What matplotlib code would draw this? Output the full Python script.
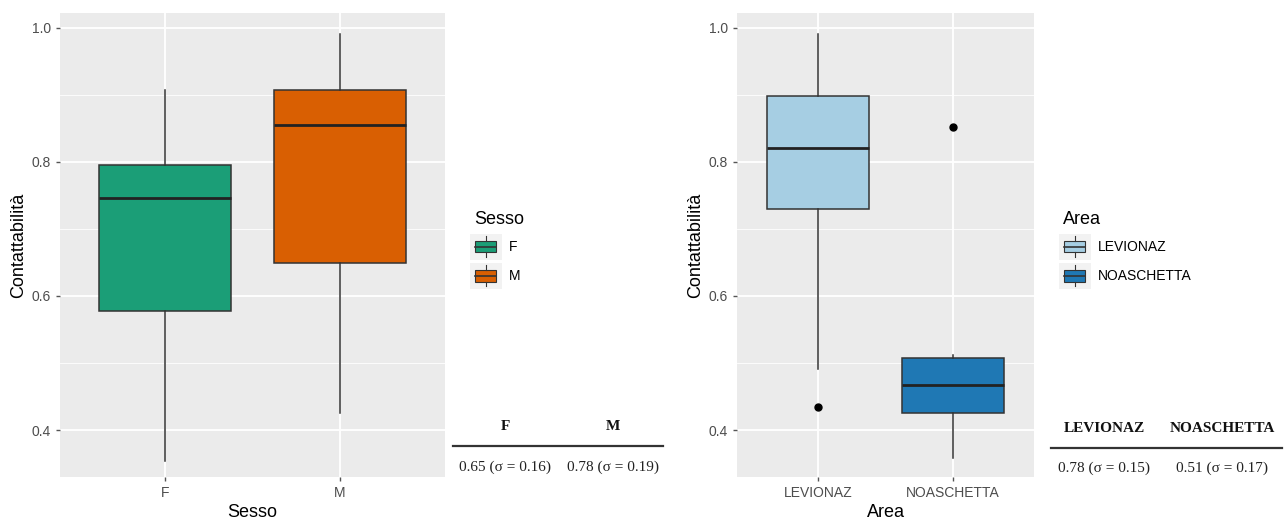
import matplotlib
matplotlib.use("Agg")
import matplotlib.pyplot as plt
from matplotlib.patches import Patch, Rectangle
from matplotlib.lines import Line2D
from matplotlib.legend_handler import HandlerBase
from matplotlib.ticker import MultipleLocator

plt.rcParams['font.family'] = ['Liberation Sans', 'DejaVu Sans']

# Boxplot statistics
sesso = ["F", "M"]
sesso_colors = ["#1B9E77", "#D95F02"]
sesso_whislo = [0.354, 0.425]
sesso_q1 = [0.578, 0.649]
sesso_med = [0.746, 0.855]
sesso_q3 = [0.796, 0.907]
sesso_whishi = [0.907, 0.991]
sesso_fliers = [[], []]
sesso_table = ["0.65 (σ = 0.16)", "0.78 (σ = 0.19)"]

area = ["LEVIONAZ", "NOASCHETTA"]
area_colors = ["#A6CEE3", "#1F78B4"]
area_whislo = [0.491, 0.359]
area_q1 = [0.729, 0.425]
area_med = [0.820, 0.467]
area_q3 = [0.898, 0.507]
area_whishi = [0.991, 0.512]
area_fliers = [[0.434], [0.852]]
area_table = ["0.78 (σ = 0.15)", "0.51 (σ = 0.17)"]

EDGE = "#333333"


class BoxKeyHandler(HandlerBase):
    def create_artists(self, legend, orig_handle, xdescent, ydescent,
                       width, height, fontsize, trans):
        bg = Rectangle((-xdescent - 3, -ydescent - 4), width + 6, height + 8,
                       facecolor="#F2F2F2", edgecolor="none", transform=trans)
        box = Rectangle((-xdescent + 1, -ydescent + height * 0.12), width - 2, height * 0.76,
                        facecolor=orig_handle.get_facecolor(), edgecolor=EDGE,
                        lw=0.8, transform=trans)
        cx = -xdescent + width / 2
        med = Line2D([-xdescent + 1, -xdescent + width - 1],
                     [-ydescent + height / 2] * 2, color=EDGE, lw=1.2, transform=trans)
        wt = Line2D([cx, cx], [-ydescent + height * 0.88, -ydescent + height + 2],
                    color=EDGE, lw=0.8, transform=trans)
        wb = Line2D([cx, cx], [-ydescent - 2, -ydescent + height * 0.12],
                    color=EDGE, lw=0.8, transform=trans)
        return [bg, box, med, wt, wb]


def draw_panel(ax, cats, colors, whislo, q1, med, q3, whishi, fliers, xlabel):
    stats = []
    for i in range(len(cats)):
        stats.append(dict(label=cats[i], whislo=whislo[i], q1=q1[i], med=med[i],
                          q3=q3[i], whishi=whishi[i], fliers=fliers[i]))
    pos = list(range(1, len(cats) + 1))
    bp = ax.bxp(stats, positions=pos, widths=0.75, patch_artist=True,
                showcaps=False, showfliers=True,
                boxprops=dict(edgecolor=EDGE, linewidth=1.1),
                medianprops=dict(color="#222222", linewidth=2.0),
                whiskerprops=dict(color=EDGE, linewidth=1.1),
                flierprops=dict(marker="o", markerfacecolor="black",
                                markeredgecolor="black", markersize=5))
    for patch, c in zip(bp["boxes"], colors):
        patch.set_facecolor(c)
    ax.set_facecolor("#EBEBEB")
    ax.set_xlim(0.4, len(cats) + 0.6)
    ax.set_ylim(0.33, 1.022)
    ax.yaxis.set_major_locator(MultipleLocator(0.2))
    ax.yaxis.set_minor_locator(MultipleLocator(0.1))
    ax.set_yticks([0.4, 0.6, 0.8, 1.0])
    ax.set_yticklabels(["0.4", "0.6", "0.8", "1.0"])
    ax.set_xticks(pos)
    ax.set_xticklabels(cats)
    ax.grid(True, which="major", color="white", linewidth=1.3)
    ax.grid(True, which="minor", axis="y", color="white", linewidth=0.6)
    ax.set_axisbelow(True)
    for s in ax.spines.values():
        s.set_visible(False)
    ax.tick_params(axis="both", which="major", colors="#555555", labelsize=10,
                   length=3, width=1, labelcolor="#4D4D4D")
    ax.tick_params(axis="y", which="minor", length=0)
    ax.set_xlabel(xlabel, fontsize=13, labelpad=3)
    ax.set_ylabel("Contattabilità", fontsize=13, labelpad=3)


fig = plt.figure(figsize=(12.85, 5.28), dpi=100)
H = 528.0
W = 1285.0

ax1 = fig.add_axes([60 / W, 1 - 477 / H, 385 / W, 464 / H])
ax2 = fig.add_axes([737 / W, 1 - 477 / H, 297 / W, 464 / H])

draw_panel(ax1, sesso, sesso_colors, sesso_whislo, sesso_q1, sesso_med,
           sesso_q3, sesso_whishi, sesso_fliers, "Sesso")
draw_panel(ax2, area, area_colors, area_whislo, area_q1, area_med,
           area_q3, area_whishi, area_fliers, "Area")


def add_legend(ax, cats, colors, title, x, y):
    handles = [Patch(facecolor=c, edgecolor=EDGE, label=lab) for c, lab in zip(colors, cats)]
    leg = ax.legend(handles=handles, title=title, loc="upper left",
                    bbox_to_anchor=(x / W, 1 - y / H), bbox_transform=fig.transFigure,
                    frameon=False, fontsize=10, title_fontsize=13,
                    handler_map={Patch: BoxKeyHandler()},
                    handlelength=1.7, handleheight=1.3, handletextpad=0.8,
                    labelspacing=1.0, borderaxespad=0, borderpad=0)
    leg._legend_box.align = "left"
    leg._legend_box.sep = 8
    return leg


add_legend(ax1, sesso, sesso_colors, "Sesso", 474, 211)
add_legend(ax2, area, area_colors, "Area", 1063, 211)


def add_table(cats, values, centers, x0, x1, y_head, y_line, y_val):
    for c, cx, v in zip(cats, centers, values):
        fig.text(cx / W, 1 - y_head / H, c, ha="center", va="center",
                 family="Liberation Serif", fontweight="bold", fontsize=11, color="#111111")
        fig.text(cx / W, 1 - y_val / H, v, ha="center", va="center",
                 family="Liberation Serif", fontsize=11, color="#222222")
    fig.add_artist(Line2D([x0 / W, x1 / W], [1 - y_line / H] * 2,
                          color="#333333", lw=1.6, transform=fig.transFigure))


add_table(sesso, sesso_table, [505, 613], 453, 663, 427, 446, 467)
add_table(area, area_table, [1104, 1222], 1051, 1282, 429, 448, 468)

fig.savefig("out.png", dpi=100)
